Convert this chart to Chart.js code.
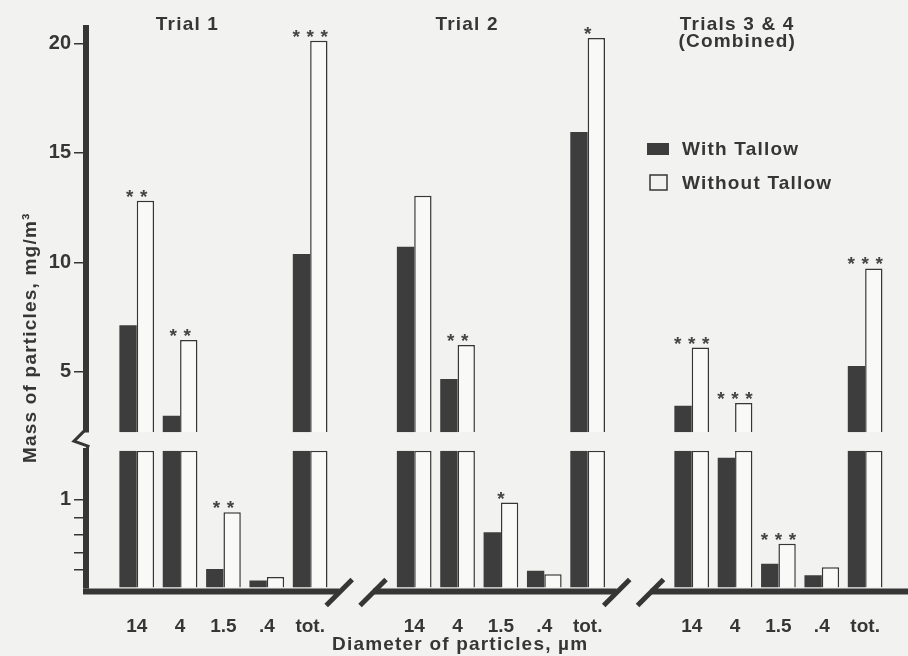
<!DOCTYPE html>
<html>
<head>
<meta charset="utf-8">
<script src="https://cdn.jsdelivr.net/npm/chart.js@4.4.1/dist/chart.umd.min.js"></script>
<style>
  html, body { margin: 0; padding: 0; background: #f2f2f0; }
  #wrap { width: 908px; height: 656px; }
</style>
</head>
<body>
<div id="wrap"><canvas id="chart" width="908" height="656"></canvas></div>
<script>
// particle sizes (µm) shown under each trial
const sizes = ["14", "4", "1.5", ".4", "tot."];
const trials = ["Trial 1", "Trial 2", "Trials 3 & 4"];
const trialNotes = ["", "", "(Combined)"];

// mass of particles, mg/m3
const withTallow = [
  [7.13, 2.99, 0.21, 0.08, 10.38],
  [10.71, 4.67, 0.63, 0.19, 15.95],
  [3.45, 1.48, 0.27, 0.14, 5.27],
];
const withoutTallow = [
  [12.81, 6.45, 0.86, 0.12, 20.12],
  [13.04, 6.22, 0.97, 0.15, 20.24],
  [6.11, 3.58, 0.50, 0.23, 9.72],
];
// number of significance asterisks over each pair
const stars = [
  [2, 2, 2, 0, 3],
  [0, 2, 1, 0, 1],
  [3, 3, 3, 0, 3],
];

// broken y axis: lower and upper segments
const lowerRange = [0, 1.56];
const upperRange = [2.245, 20.7];
const lowerTicks = [0.2, 0.4, 0.6, 0.8, 1];
const lowerTickLabels = ["", "", "", "", "1"];
const upperTicks = [5, 10, 15, 20];
const upperTickLabels = ["5", "10", "15", "20"];

// layout of the x axis: one slot per size, wider gap between trials
const TRIAL_STRIDE = 6.4;
const X_RANGE = [-1.17, 17.7];
const slot = (ti, i) => ti * TRIAL_STRIDE + i;

const FONT = "'Liberation Sans', Arial, sans-serif";
const ink = "#363636";
const dark = "#3d3d3d";
const light = "#f9f9f7";
const paper = "#f2f2f0";

const xTicks = [];
trials.forEach((t, ti) => sizes.forEach((sz, i) => xTicks.push(slot(ti, i))));

function lowerPiece(vals) {
  const pts = [];
  trials.forEach((t, ti) => vals[ti].forEach((v, i) => pts.push({ x: slot(ti, i), y: Math.min(v, lowerRange[1]) })));
  return pts;
}
function upperPiece(vals) {
  const pts = [];
  trials.forEach((t, ti) => vals[ti].forEach((v, i) =>
    pts.push({ x: slot(ti, i), y: v > upperRange[0] ? [upperRange[0], v] : null })));
  return pts;
}

const barStyle = {
  with: { backgroundColor: dark, borderColor: dark, borderWidth: 0 },
  without: { backgroundColor: light, borderColor: ink, borderWidth: 1.5 },
};
const datasets = [
  { label: "With Tallow", stack: "with", yAxisID: "yLow", data: lowerPiece(withTallow), ...barStyle.with },
  { label: "Without Tallow", stack: "without", yAxisID: "yLow", data: lowerPiece(withoutTallow), ...barStyle.without },
  { label: "With Tallow", stack: "with", yAxisID: "yHigh", data: upperPiece(withTallow), ...barStyle.with },
  { label: "Without Tallow", stack: "without", yAxisID: "yHigh", data: upperPiece(withoutTallow), ...barStyle.without },
];

const Y_WIDTH = 86;
const X_HEIGHT = 68.5;
const yGrid = { drawOnChartArea: false, drawTicks: true, tickLength: 12, color: ink, lineWidth: 1.5 };
const tickFont = { family: FONT, size: 20, weight: "bold" };

const decorations = {
  id: "decorations",
  beforeDraw(chart) {
    const ctx = chart.ctx;
    ctx.save();
    ctx.fillStyle = paper;
    ctx.fillRect(0, 0, chart.width, chart.height);
    ctx.restore();
  },
  afterDatasetsDraw(chart) {
    const ctx = chart.ctx;
    const xs = chart.scales.x;
    ctx.save();
    ctx.fillStyle = "#444";
    ctx.font = "bold 19px " + FONT;
    ctx.textAlign = "center";
    ctx.textBaseline = "alphabetic";
    let k = 0;
    trials.forEach((t, ti) => {
      stars[ti].forEach((n, i) => {
        const idx = k++;
        if (!n) return;
        let top = Infinity;
        chart.data.datasets.forEach((ds, di) => {
          const v = ds.data[idx].y;
          if (v == null) return;
          top = Math.min(top, chart.getDatasetMeta(di).data[idx].y);
        });
        const cx = xs.getPixelForValue(slot(ti, i));
        for (let j = 0; j < n; j++) {
          ctx.fillText("*", cx + (j - (n - 1) / 2) * 14, top + 2);
        }
      });
    });
    ctx.restore();
  },
  afterDraw(chart) {
    const ctx = chart.ctx;
    const area = chart.chartArea;
    const sc = chart.scales;
    const px = (v) => sc.x.getPixelForValue(v);
    ctx.save();
    ctx.strokeStyle = ink;
    ctx.fillStyle = ink;

    // x baseline with break marks in the gaps between trials
    const by = area.bottom + 4;
    const cuts = [];
    for (let ti = 0; ti < trials.length - 1; ti++) {
      cuts.push(px(slot(ti, 4.67)), px(slot(ti, 5.45)));
    }
    ctx.lineWidth = 6;
    ctx.beginPath();
    ctx.moveTo(area.left - 3, by);
    cuts.forEach((c, i) => { if (i % 2 === 0) ctx.lineTo(c, by); else ctx.moveTo(c, by); });
    ctx.lineTo(chart.width, by);
    ctx.stroke();
    ctx.lineWidth = 5;
    ctx.beginPath();
    cuts.forEach((c) => {
      ctx.moveTo(c - 13, by + 14);
      ctx.lineTo(c + 13, by - 12);
    });
    ctx.stroke();

    // zigzag break on the y axis
    const hb = sc.yHigh.bottom, lt = sc.yLow.top, ax = area.left - 1;
    ctx.lineWidth = 3;
    ctx.beginPath();
    ctx.moveTo(ax, hb - 2);
    ctx.lineTo(ax - 11, hb + 9);
    ctx.lineTo(ax + 3, hb + 14);
    ctx.lineTo(ax, lt + 4);
    ctx.stroke();

    // trial headings
    ctx.letterSpacing = "1.2px";
    ctx.font = "bold 19px " + FONT;
    ctx.textAlign = "center";
    ctx.textBaseline = "alphabetic";
    const titleAt = [1.17, 1.22, 1.05];
    trials.forEach((t, ti) => {
      const cx = px(slot(ti, titleAt[ti]));
      ctx.fillText(t, cx, area.top + 2);
      if (trialNotes[ti]) ctx.fillText(trialNotes[ti], cx, area.top + 19);
    });

    // x axis title
    ctx.fillText("Diameter of particles, \u00b5m", px(7.46), chart.height - 6);

    // y axis title
    ctx.save();
    ctx.translate(36, (sc.yHigh.top + sc.yLow.bottom) / 2 + 30);
    ctx.rotate(-Math.PI / 2);
    ctx.fillText("Mass of particles, mg/m\u00b3", 0, 0);
    ctx.restore();

    // legend
    const lx = area.left + 561;
    const rows = [
      { label: datasets[0].label, fill: dark, y: area.top + 127 },
      { label: datasets[1].label, fill: null, y: area.top + 161 },
    ];
    ctx.textAlign = "left";
    rows.forEach((r) => {
      if (r.fill) {
        ctx.fillStyle = r.fill;
        ctx.fillRect(lx, r.y - 12, 22, 12);
      } else {
        ctx.lineWidth = 1.5;
        ctx.strokeRect(lx + 3, r.y - 14, 17, 15);
      }
      ctx.fillStyle = ink;
      ctx.fillText(r.label, lx + 35, r.y);
    });
    ctx.restore();
  },
};

new Chart(document.getElementById("chart"), {
  type: "bar",
  data: { datasets: datasets },
  options: {
    responsive: false,
    animation: false,
    devicePixelRatio: 1,
    categoryPercentage: 0.8,
    barPercentage: 1.0,
    layout: { padding: { top: 28, right: 2, bottom: 0, left: 0 } },
    plugins: { legend: { display: false }, tooltip: { enabled: false } },
    scales: {
      x: {
        type: "linear",
        position: "bottom",
        offset: false,
        min: X_RANGE[0],
        max: X_RANGE[1],
        afterBuildTicks: (s) => { s.ticks = xTicks.map((v) => ({ value: v })); },
        grid: { display: false, drawTicks: false },
        border: { display: false },
        ticks: {
          color: ink,
          padding: 28,
          maxRotation: 0,
          autoSkip: false,
          font: { family: FONT, size: 19, weight: "bold" },
          callback: (v, i) => sizes[i % sizes.length],
        },
        afterFit: (s) => { s.height = X_HEIGHT; },
      },
      yLow: {
        type: "linear",
        position: "left",
        stack: "ys",
        stackWeight: 136.8,
        stacked: false,
        min: lowerRange[0],
        max: lowerRange[1],
        afterBuildTicks: (s) => { s.ticks = lowerTicks.map((v) => ({ value: v })); },
        grid: yGrid,
        border: { display: true, width: 6, color: ink },
        ticks: { color: ink, padding: 3, autoSkip: false, font: tickFont, callback: (v, i) => lowerTickLabels[i] },
        afterFit: (s) => { s.width = Y_WIDTH; },
      },
      yGap: {
        type: "linear",
        position: "left",
        stack: "ys",
        stackWeight: 18.7,
        grid: { display: false, drawTicks: false },
        border: { display: false },
        ticks: { display: false },
        afterFit: (s) => { s.width = Y_WIDTH; },
      },
      yHigh: {
        type: "linear",
        position: "left",
        stack: "ys",
        stackWeight: 404.5,
        stacked: false,
        min: upperRange[0],
        max: upperRange[1],
        afterBuildTicks: (s) => { s.ticks = upperTicks.map((v) => ({ value: v })); },
        grid: yGrid,
        border: { display: true, width: 6, color: ink },
        ticks: { color: ink, padding: 3, autoSkip: false, font: tickFont, callback: (v, i) => upperTickLabels[i] },
        afterFit: (s) => { s.width = Y_WIDTH; },
      },
    },
  },
  plugins: [decorations],
});
</script>
</body>
</html>
